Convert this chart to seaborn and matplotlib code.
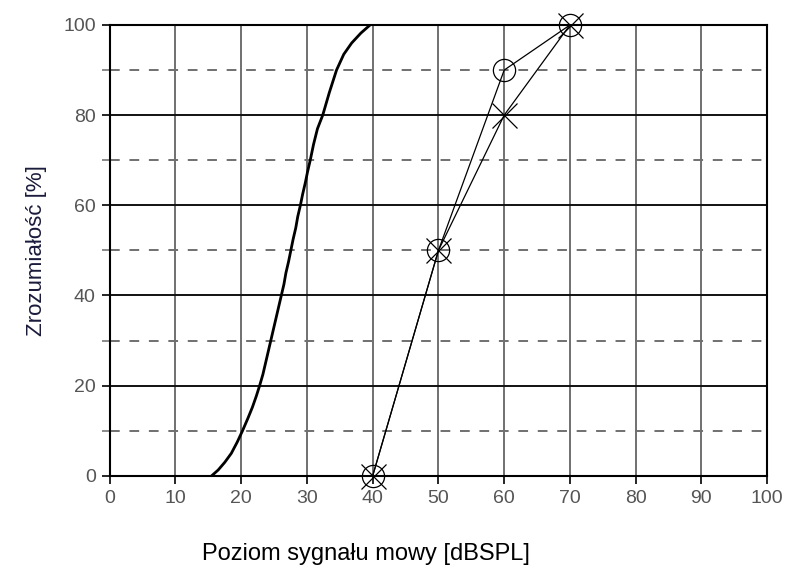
import numpy as np
import pandas as pd
import matplotlib
matplotlib.use('Agg')
import matplotlib.pyplot as plt
import seaborn as sns

# krzywa dla słuchu normalnego
norm_x = [15.5, 16.5, 17.5, 18.5, 19.4, 20.2, 21.0, 21.7, 22.3, 22.8, 23.3, 23.7,
          24.1, 24.5, 24.9, 25.3, 25.7, 26.1, 26.5, 26.8, 27.2, 27.55, 27.9, 28.3,
          28.6, 29.0, 29.35, 29.75, 30.1, 30.5, 31.0, 31.6, 32.4, 33.4, 34.5, 35.6,
          36.8, 38.2, 39.6]
norm_y = [0, 1.3, 3, 5, 7.5, 10, 12.7, 15.2, 17.7, 20, 22.5, 25,
          27.5, 30, 32.5, 35, 37.5, 40, 42.5, 45, 47.5, 50, 52.5, 55,
          57.5, 60, 62.5, 65, 67.5, 70, 73.5, 77, 80, 85, 90, 93.5,
          96, 98.2, 100]

# pomiary (kółka i krzyżyki)
meas_x = [40, 50, 60, 70]
circle_y = [0, 50, 90, 100]
cross_y = [0, 50, 80, 100]

x_ticks = list(range(0, 101, 10))
y_ticks = list(range(0, 101, 20))

sns.set_style('white')
plt.rcParams['font.family'] = ['Liberation Sans', 'DejaVu Sans']

fig = plt.figure(figsize=(7.95, 5.81), dpi=100)
ax = fig.add_axes([0.138, 0.181, 0.827, 0.776])

# siatka
for xv in x_ticks:
    ax.axvline(xv, color='#707070', lw=1.4, zorder=0)
for yv in range(20, 100, 20):
    ax.axhline(yv, color='#111111', lw=1.4, zorder=0)
for yv in range(10, 100, 20):
    ax.axhline(yv, color='#707070', lw=1.4, ls=(0, (5, 5)), zorder=0)

df_norm = pd.DataFrame({'x': norm_x, 'y': norm_y})
sns.lineplot(data=df_norm, x='x', y='y', sort=False, color='black', lw=2.0, ax=ax)

df_c = pd.DataFrame({'x': meas_x, 'y': circle_y})
sns.lineplot(data=df_c, x='x', y='y', sort=False, color='black', lw=0.9, ax=ax,
             marker='o', markersize=16, markerfacecolor='none', markeredgecolor='black',
             markeredgewidth=0.9, clip_on=False, zorder=5)
df_x = pd.DataFrame({'x': meas_x, 'y': cross_y})
sns.lineplot(data=df_x, x='x', y='y', sort=False, color='black', lw=0.9, ax=ax,
             marker='x', markersize=18, markeredgecolor='black', markeredgewidth=0.9,
             clip_on=False, zorder=5)

ax.set_xlim(0, 100)
ax.set_ylim(0, 100)
ax.set_xticks(x_ticks)
ax.set_yticks(y_ticks)
ax.set_yticks(list(range(10, 100, 20)), minor=True)
ax.tick_params(axis='both', which='major', direction='out', length=6, width=1.2,
               color='black', labelsize=14, labelcolor='#555555', pad=4,
               bottom=True, left=True)
ax.tick_params(axis='y', which='minor', direction='out', length=6, width=1.2,
               color='#777777', left=True)
for s in ax.spines.values():
    s.set_color('black')
    s.set_linewidth(1.5)

ax.set_xlabel('Poziom sygnału mowy [dBSPL]', fontsize=17, color='black')
ax.xaxis.set_label_coords(0.39, -0.15)
ax.set_ylabel('Zrozumiałość [%]', fontsize=16, color='#1a1a3a', labelpad=12)

fig.savefig('out.png', dpi=100)
